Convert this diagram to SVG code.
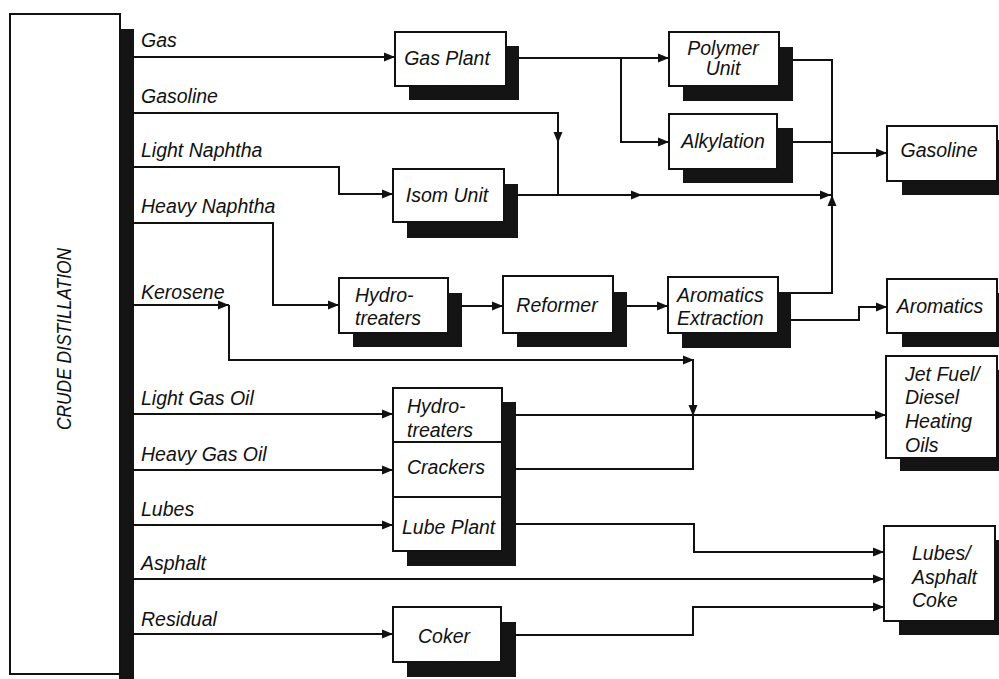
<svg xmlns="http://www.w3.org/2000/svg" xmlns:xlink="http://www.w3.org/1999/xlink" width="999" height="679" viewBox="0 0 999 679">
<style>
.box{fill:#fff;stroke:#111;stroke-width:2}
.sh{fill:#141414}
.ln{fill:none;stroke:#111;stroke-width:2}
.t{font-family:"Liberation Sans",Arial,sans-serif;font-style:italic;font-size:19.5px;fill:#111}
.c{text-anchor:middle}
</style>
<defs>
<marker id="ar" markerUnits="userSpaceOnUse" markerWidth="12" markerHeight="10" refX="11" refY="5" orient="auto"><path d="M0,0.5 L11,5 L0,9.5 Z" fill="#111"/></marker>
<path id="ah" d="M0,0 L-11,-4.5 L-11,4.5 Z" fill="#111"/>
</defs>
<rect width="999" height="679" fill="#fff"/>

<g id="crude">
<rect class="sh" x="119" y="29" width="15" height="650"/>
<rect class="box" x="10" y="14" width="110" height="660"/>
<text class="t" transform="translate(71,339) rotate(-90)" text-anchor="middle" font-size="23" textLength="182" lengthAdjust="spacingAndGlyphs">CRUDE DISTILLATION</text>
</g>

<g id="labels">
<text class="t" x="141" y="47">Gas</text>
<text class="t" x="141" y="103">Gasoline</text>
<text class="t" x="141" y="157">Light Naphtha</text>
<text class="t" x="141" y="213">Heavy Naphtha</text>
<text class="t" x="141" y="299">Kerosene</text>
<text class="t" x="141" y="405">Light Gas Oil</text>
<text class="t" x="141" y="461">Heavy Gas Oil</text>
<text class="t" x="141" y="516">Lubes</text>
<text class="t" x="141" y="570">Asphalt</text>
<text class="t" x="141" y="626">Residual</text>
</g>

<g id="gas-plant">
<rect class="sh" x="409" y="46" width="110" height="54"/>
<rect class="box" x="395" y="32" width="111" height="54"/>
<text class="t c" x="447" y="65">Gas Plant</text>
</g>
<g id="isom-unit">
<rect class="sh" x="407" y="184" width="111" height="54"/>
<rect class="box" x="393" y="169" width="111" height="53"/>
<text class="t c" x="447" y="202">Isom Unit</text>
</g>
<g id="polymer-unit">
<rect class="sh" x="683" y="47" width="110" height="54"/>
<rect class="box" x="669" y="32" width="110" height="54"/>
<text class="t c" x="723" y="55">Polymer</text>
<text class="t c" x="723" y="75">Unit</text>
</g>
<g id="alkylation">
<rect class="sh" x="683" y="128" width="110" height="55"/>
<rect class="box" x="669" y="114" width="108" height="55"/>
<text class="t c" x="723" y="148">Alkylation</text>
</g>
<g id="gasoline">
<rect class="sh" x="902" y="140" width="110" height="55"/>
<rect class="box" x="887" y="126" width="110" height="55"/>
<text class="t c" x="939" y="157">Gasoline</text>
</g>
<g id="hydrotreaters-1">
<rect class="sh" x="353" y="293" width="109" height="54"/>
<rect class="box" x="339" y="278" width="109" height="55"/>
<text class="t" x="355" y="302">Hydro-</text>
<text class="t" x="355" y="325">treaters</text>
</g>
<g id="reformer">
<rect class="sh" x="517" y="292" width="110" height="55"/>
<rect class="box" x="503" y="276" width="110" height="57"/>
<text class="t c" x="557" y="312">Reformer</text>
</g>
<g id="aromatics-extraction">
<rect class="sh" x="682" y="292" width="109" height="56"/>
<rect class="box" x="668" y="277" width="110" height="56"/>
<text class="t" x="677" y="302">Aromatics</text>
<text class="t" x="677" y="325">Extraction</text>
</g>
<g id="aromatics">
<rect class="sh" x="902" y="293" width="110" height="54"/>
<rect class="box" x="887" y="279" width="110" height="54"/>
<text class="t c" x="940" y="313">Aromatics</text>
</g>
<g id="jet-fuel">
<rect class="sh" x="900" y="370" width="111" height="101"/>
<rect class="box" x="886" y="356" width="111" height="102"/>
<text class="t" x="905" y="381">Jet Fuel/</text>
<text class="t" x="905" y="404">Diesel</text>
<text class="t" x="905" y="428">Heating</text>
<text class="t" x="905" y="452">Oils</text>
</g>
<g id="hydro-crackers-lube">
<rect class="sh" x="407" y="402" width="109" height="164"/>
<rect class="box" x="393" y="388" width="109" height="163"/>
<line class="ln" x1="393" y1="442" x2="502" y2="442"/>
<line class="ln" x1="393" y1="497" x2="502" y2="497"/>
<text class="t" x="407" y="413">Hydro-</text>
<text class="t" x="407" y="437">treaters</text>
<text class="t" x="407" y="474">Crackers</text>
<text class="t" x="402" y="534">Lube Plant</text>
</g>
<g id="coker">
<rect class="sh" x="407" y="622" width="109" height="55"/>
<rect class="box" x="393" y="607" width="108" height="55"/>
<text class="t c" x="444" y="643">Coker</text>
</g>
<g id="lubes-asphalt-coke">
<rect class="sh" x="899" y="540" width="111" height="95"/>
<rect class="box" x="884" y="526" width="111" height="95"/>
<text class="t" x="912" y="560">Lubes/</text>
<text class="t" x="912" y="584">Asphalt</text>
<text class="t" x="912" y="607">Coke</text>
</g>

<g id="connectors">
<path class="ln" marker-end="url(#ar)" d="M134,57 H395"/>
<path class="ln" marker-end="url(#ar)" d="M518,58 H669"/>
<path class="ln" marker-end="url(#ar)" d="M621,58 V142 H669"/>
<path class="ln" d="M134,113 H558 V195"/>
<use xlink:href="#ah" transform="translate(558,143) rotate(90)"/>
<path class="ln" marker-end="url(#ar)" d="M134,167 H339 V194 H393"/>
<path class="ln" marker-end="url(#ar)" d="M518,195 H831"/>
<use xlink:href="#ah" transform="translate(642,195)"/>
<path class="ln" d="M793,60 H832 V293 H791"/>
<path class="ln" d="M793,142 H832"/>
<use xlink:href="#ah" transform="translate(832,195) rotate(-90)"/>
<path class="ln" marker-end="url(#ar)" d="M832,153 H887"/>
<path class="ln" marker-end="url(#ar)" d="M791,320 H859 V307 H887"/>
<path class="ln" marker-end="url(#ar)" d="M134,223 H273 V305 H339"/>
<path class="ln" marker-end="url(#ar)" d="M462,306 H503"/>
<path class="ln" marker-end="url(#ar)" d="M627,306 H668"/>
<path class="ln" marker-end="url(#ar)" d="M134,305 H229"/>
<path class="ln" marker-end="url(#ar)" d="M229,305 V360 H694"/>
<path class="ln" d="M693,360 V469 H516"/>
<use xlink:href="#ah" transform="translate(693,416) rotate(90)"/>
<path class="ln" marker-end="url(#ar)" d="M134,414 H393"/>
<path class="ln" marker-end="url(#ar)" d="M516,415 H886"/>
<path class="ln" marker-end="url(#ar)" d="M134,470 H393"/>
<path class="ln" marker-end="url(#ar)" d="M134,525 H393"/>
<path class="ln" marker-end="url(#ar)" d="M516,524 H694 V552 H884"/>
<path class="ln" marker-end="url(#ar)" d="M134,579 H884"/>
<path class="ln" marker-end="url(#ar)" d="M134,634 H393"/>
<path class="ln" marker-end="url(#ar)" d="M516,635 H693 V607 H884"/>
</g>
</svg>
